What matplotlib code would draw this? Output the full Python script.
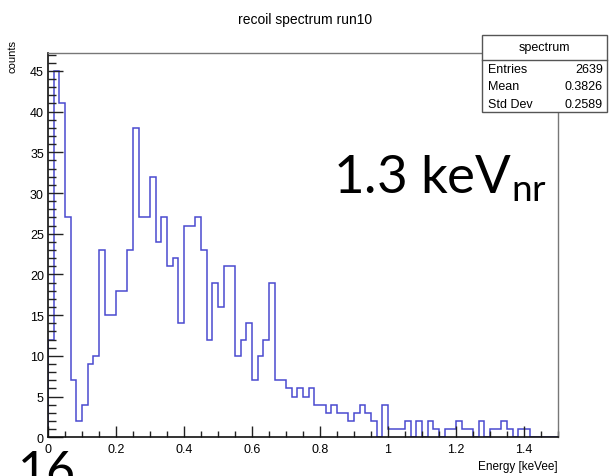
import numpy as np
import matplotlib
matplotlib.use("Agg")
import matplotlib.pyplot as plt
from matplotlib.patches import Rectangle
from matplotlib.lines import Line2D
from matplotlib.ticker import MultipleLocator

# histogram contents, 90 bins from 0 to 1.5 keVee
counts = [12, 45, 41, 27, 7, 2, 4, 9, 10, 23,
          15, 15, 18, 18, 23, 38, 27, 27, 32, 24,
          27, 21, 22, 14, 26, 26, 27, 23, 12, 19,
          16, 21, 21, 10, 12, 14, 7, 10, 12, 19,
          7, 7, 6, 5, 6, 5, 6, 4, 4, 3,
          4, 3, 3, 2, 3, 4, 3, 2, 0, 4,
          1, 1, 1, 2, 0, 2, 0, 2, 1, 0,
          1, 1, 2, 1, 1, 0, 2, 0, 1, 1,
          2, 1, 0, 1, 1, 0, 0, 0, 0, 0]
x_lo, x_hi = 0.0, 1.5
stat_names = ["Entries", "Mean", "Std Dev"]
stat_values = ["2639", "0.3826", "0.2589"]

W, H = 611, 477
fig = plt.figure(figsize=(W / 100, H / 100), dpi=100)

def fx(x):
    return x / W

def fy(y):
    return 1 - y / H

ax = fig.add_axes([fx(48), fy(438.3), (558 - 48) / W, (438.3 - 54) / H])
edges = np.linspace(x_lo, x_hi, len(counts) + 1)
ax.stairs(counts, edges, color="#4a4ad0", lw=1.1, baseline=0)
ax.set_xlim(x_lo, x_hi)
ax.set_ylim(0, 47.2)

ax.xaxis.set_minor_locator(MultipleLocator(0.05))
ax.yaxis.set_major_locator(MultipleLocator(5))
ax.yaxis.set_minor_locator(MultipleLocator(1))
ax.set_xticks(np.arange(0, 1.41, 0.2))
ax.set_xticklabels(["0", "0.2", "0.4", "0.6", "0.8", "1", "1.2", "1.4"])

# ROOT style: ticks inside, only on bottom/left
ax.tick_params(axis="both", which="both", direction="in", top=False, right=False,
               width=1, color="#222222")
ax.tick_params(axis="y", which="major", length=10.5, pad=3, labelsize=9)
ax.tick_params(axis="y", which="minor", length=5.5)
ax.tick_params(axis="x", which="major", length=8, pad=4, labelsize=9)
ax.tick_params(axis="x", which="minor", length=4)
for lab in ax.get_xticklabels() + ax.get_yticklabels():
    lab.set_family("Liberation Sans")

for s in ["left", "bottom"]:
    ax.spines[s].set_color("#111111")
    ax.spines[s].set_linewidth(1.2)
for s in ["top", "right"]:
    ax.spines[s].set_color("#777777")
    ax.spines[s].set_linewidth(1.0)

fig.text(fx(305), fy(20), "recoil spectrum run10", ha="center", va="center",
         fontsize=10, family="Liberation Sans")
fig.text(fx(12), fy(40), "counts", ha="center", va="top", rotation=90,
         fontsize=8, family="Liberation Sans")
fig.text(fx(558), fy(467), "Energy [keVee]", ha="right", va="center",
         fontsize=8.5, family="Liberation Sans")

# stats box
box = Rectangle((fx(481.7), fy(113)), (606.7 - 481.7) / W, (113 - 36) / H,
                transform=fig.transFigure, facecolor="white", edgecolor="#555555",
                lw=1, zorder=5)
fig.add_artist(box)
fig.add_artist(Line2D([fx(481.7), fx(606.7)], [fy(61), fy(61)],
                      transform=fig.transFigure, color="#555555", lw=1, zorder=6))
fig.text(fx(544), fy(48.5), "spectrum", ha="center", va="center", fontsize=9,
         family="Liberation Sans", zorder=7)
for i, (n, v) in enumerate(zip(stat_names, stat_values)):
    yy = fy(70 + i * 17.5)
    fig.text(fx(488), yy, n, ha="left", va="center", fontsize=9,
             family="Liberation Sans", zorder=7)
    fig.text(fx(603), yy, v, ha="right", va="center", fontsize=9,
             family="Liberation Sans", zorder=7)

# slide annotations
fig.text(fx(333), fy(193), "1.3 keV$_{\\mathregular{nr}}$", ha="left", va="baseline",
         fontsize=38, family="Lato")
fig.text(fx(18), fy(487), "16", ha="left", va="baseline", fontsize=36, family="Lato")

fig.savefig("out.png", dpi=100)
